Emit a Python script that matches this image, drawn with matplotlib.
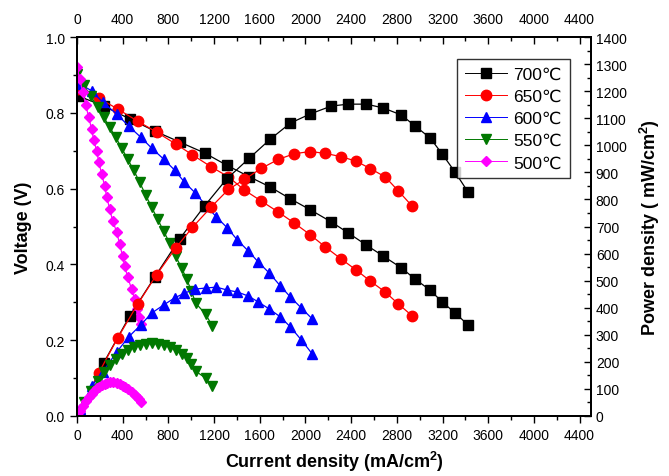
import matplotlib
matplotlib.use("Agg")
import matplotlib.pyplot as plt
from matplotlib.ticker import MultipleLocator

plt.rcParams['font.family'] = ['Liberation Sans', 'DejaVu Sans']
plt.rcParams['mathtext.fontset'] = 'custom'
plt.rcParams['mathtext.rm'] = 'Liberation Sans'
plt.rcParams['mathtext.bf'] = 'Liberation Sans:bold'

# Data: current density (mA/cm2), voltage (V), power density (mW/cm2)
i_700 = [15, 233, 461, 680, 898, 1117, 1309, 1510, 1693, 1868, 2043, 2227, 2375,
         2533, 2681, 2839, 2961, 3092, 3197, 3310, 3424]
v_700 = [0.844, 0.818, 0.784, 0.752, 0.723, 0.694, 0.662, 0.631, 0.604, 0.573, 0.544,
         0.512, 0.483, 0.451, 0.422, 0.391, 0.361, 0.332, 0.301, 0.272, 0.240]
p_700 = [8, 196, 369, 513, 654, 776, 875, 953, 1023, 1082, 1116, 1145, 1152, 1152,
         1138, 1112, 1071, 1027, 968, 901, 827]

i_650 = [6, 190, 356, 531, 697, 863, 1011, 1177, 1326, 1466, 1614, 1763, 1903, 2043,
         2174, 2314, 2445, 2568, 2699, 2812, 2935]
v_650 = [0.863, 0.839, 0.810, 0.778, 0.749, 0.718, 0.689, 0.657, 0.631, 0.596, 0.567,
         0.538, 0.509, 0.478, 0.446, 0.414, 0.385, 0.356, 0.327, 0.296, 0.264]
p_650 = [5, 159, 288, 413, 522, 620, 697, 773, 837, 874, 915, 948, 969, 977, 970,
         958, 941, 914, 883, 832, 775]

i_600 = [30, 129, 225, 347, 452, 557, 653, 758, 854, 941, 1037, 1133, 1221, 1317,
         1405, 1501, 1588, 1684, 1781, 1868, 1964, 2060]
v_600 = [0.875, 0.858, 0.828, 0.797, 0.765, 0.736, 0.707, 0.678, 0.649, 0.617, 0.588,
         0.554, 0.525, 0.496, 0.464, 0.435, 0.406, 0.377, 0.343, 0.314, 0.285, 0.256]
p_600 = [27, 111, 163, 236, 292, 336, 380, 410, 436, 454, 469, 473, 476, 465, 458,
         443, 421, 395, 366, 329, 281, 229]

i_550 = [0, 59, 120, 181, 233, 286, 338, 391, 443, 496, 548, 601, 653, 705, 758,
         810, 863, 915, 959, 1002, 1038, 1125, 1186]
v_550 = [0.902, 0.873, 0.844, 0.815, 0.789, 0.762, 0.736, 0.707, 0.678, 0.649, 0.617,
         0.583, 0.551, 0.520, 0.488, 0.457, 0.422, 0.391, 0.362, 0.330, 0.298, 0.269, 0.237]
p_550 = [0, 52, 92, 129, 163, 188, 210, 229, 244, 255, 262, 266, 270, 266, 262, 255,
         244, 229, 214, 192, 166, 140, 111]

i_500 = [0, 24, 50, 76, 102, 128, 146, 173, 190, 216, 242, 260, 286, 312, 347, 373,
         399, 417, 443, 478, 504, 522, 539, 557]
v_500 = [0.921, 0.889, 0.855, 0.821, 0.789, 0.757, 0.728, 0.699, 0.670, 0.639, 0.607,
         0.578, 0.546, 0.515, 0.486, 0.454, 0.422, 0.396, 0.367, 0.335, 0.309, 0.282,
         0.261, 0.243]
p_500 = [0, 20, 38, 55, 70, 83, 92, 102, 108, 115, 120, 123, 125, 125, 122, 118, 112,
         107, 99, 87, 77, 69, 61, 53]

labels = ['700℃', '650℃', '600℃', '550℃', '500℃']
x_ticks = [0, 400, 800, 1200, 1600, 2000, 2400, 2800, 3200, 3600, 4000, 4400]

series = [
    (i_700, v_700, p_700, 'black', 's', 6.5),
    (i_650, v_650, p_650, 'red', 'o', 7.5),
    (i_600, v_600, p_600, 'blue', '^', 7.5),
    (i_550, v_550, p_550, '#007800', 'v', 7.5),
    (i_500, v_500, p_500, 'magenta', 'D', 5.5),
]

fig = plt.figure(figsize=(6.69, 4.77), dpi=100)
ax = fig.add_axes([0.1151, 0.1258, 0.7683, 0.7945])
ax2 = ax.twinx()
ax3 = ax.twiny()

handles = []
for (cur, volt, pw, col, mk, ms), lab in zip(series, labels):
    h, = ax.plot(cur, volt, color=col, marker=mk, ms=ms, lw=0.9, mec=col, label=lab)
    ax2.plot(cur, pw, color=col, marker=mk, ms=ms, lw=0.9, mec=col)
    handles.append(h)

ax.set_xlim(0, 4500)
ax.set_ylim(0, 1.0)
ax2.set_ylim(0, 1400)
ax3.set_xlim(0, 4500)

ax.set_xticks(x_ticks)
ax3.set_xticks(x_ticks)
ax.xaxis.set_minor_locator(MultipleLocator(200))
ax3.xaxis.set_minor_locator(MultipleLocator(200))
ax.yaxis.set_major_locator(MultipleLocator(0.2))
ax.yaxis.set_minor_locator(MultipleLocator(0.1))
ax2.yaxis.set_major_locator(MultipleLocator(100))
ax2.yaxis.set_minor_locator(MultipleLocator(50))

ax.tick_params(axis='both', which='major', direction='out', length=5, width=1, labelsize=10)
ax.tick_params(axis='both', which='minor', direction='out', length=3, width=1)
ax2.tick_params(axis='y', which='major', direction='in', length=5, width=1, labelsize=10)
ax2.tick_params(axis='y', which='minor', direction='in', length=3, width=1)
ax3.tick_params(axis='x', which='major', direction='in', length=5, width=1, labelsize=10, pad=8)
ax3.tick_params(axis='x', which='minor', direction='in', length=3, width=1)

for a in (ax, ax2, ax3):
    for s in a.spines.values():
        s.set_linewidth(1.2)

ax.set_xlabel('Current density (mA/cm$\\mathbf{^2}$)', fontsize=13, fontweight='bold', labelpad=5)
ax.set_ylabel('Voltage (V)', fontsize=13, fontweight='bold', labelpad=10)
ax2.set_ylabel('Power density ( mW/cm$\\mathbf{^2}$)', fontsize=13, fontweight='bold', labelpad=8)

leg = ax2.legend(handles, labels, loc='upper right', bbox_to_anchor=(570 / 669, 1 - 60 / 477),
                 bbox_transform=fig.transFigure, fontsize=12.5, frameon=True, fancybox=False,
                 edgecolor='black', handlelength=2.4, borderpad=0.45, labelspacing=0.4,
                 handletextpad=0.4, borderaxespad=0)
leg.get_frame().set_linewidth(1.0)
for ln in leg.get_lines():
    ln.set_linewidth(0.7)

fig.savefig('out.png', dpi=100)
